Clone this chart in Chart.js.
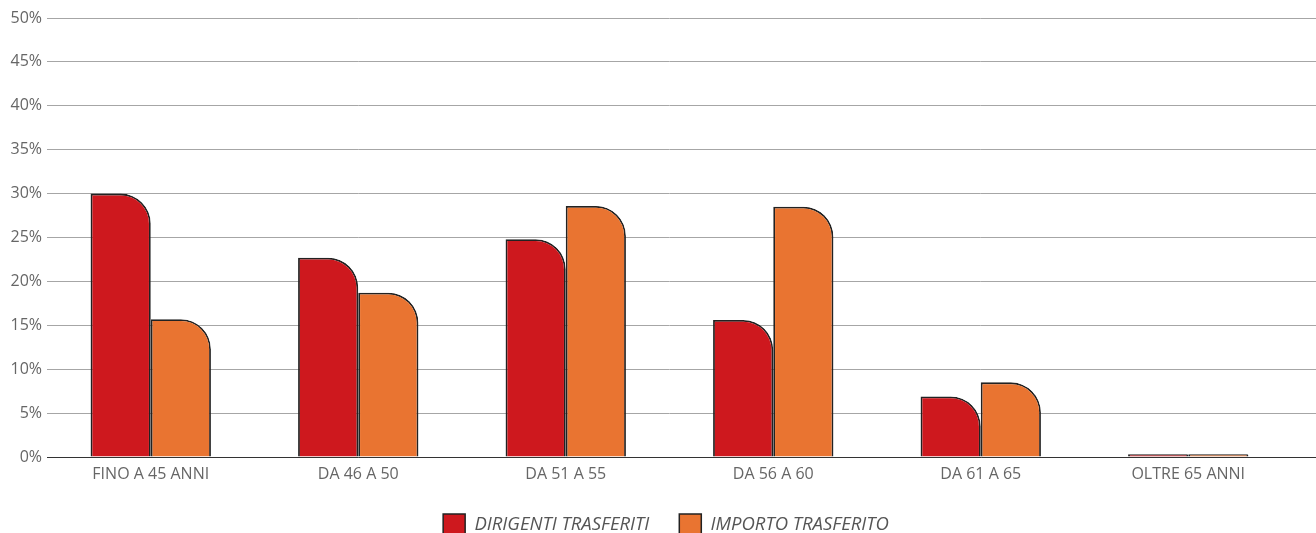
<!DOCTYPE html>
<html>
<head>
<meta charset="utf-8">
<script src="https://cdn.jsdelivr.net/npm/chart.js@4/dist/chart.umd.min.js"></script>
<style>
  html, body { margin: 0; padding: 0; background: #fff; overflow: hidden; }
  #wrap { width: 1316px; height: 545px; }
</style>
</head>
<body>
<div id="wrap"><canvas id="ageChart" width="1316" height="545"></canvas></div>
<script>
let categories = ["FINO A 45 ANNI", "DA 46 A 50", "DA 51 A 55", "DA 56 A 60", "DA 61 A 65", "OLTRE 65 ANNI"];
let dirigentiTrasferiti = [30, 22.7, 24.8, 15.6, 6.9, 0.3];
let importoTrasferito = [15.7, 18.7, 28.6, 28.5, 8.5, 0.3];

// gridlines in the reference run to the right edge of the picture
let extendGrid = {
    id: "extendGrid",
    afterLayout(chart) {
        // legend sits a little right of centre in the reference
        chart.legend.left += 20;
        chart.legend.right += 20;
    },
    beforeDatasetsDraw(chart) {
        let c = chart.ctx;
        let area = chart.chartArea;
        let y = chart.scales.y;
        c.save();
        y.ticks.forEach(function (t) {
            let py = Math.round(y.getPixelForValue(t.value) - 0.5) + 0.5;
            c.strokeStyle = t.value === 0 ? "#333" : "#a6a6a6";
            c.lineWidth = 1;
            c.beginPath();
            c.moveTo(area.right - 2, py);
            c.lineTo(chart.width, py);
            c.stroke();
        });
        c.restore();
    }
};

let ctx = document.getElementById("ageChart").getContext("2d");
let ageChart = new Chart(ctx, {
    type: "bar",
    data: {
        labels: categories,
        datasets: [{
            label: "DIRIGENTI TRASFERITI",
            data: dirigentiTrasferiti,
            backgroundColor: "#ce181e",
            borderColor: "#222",
            borderWidth: 1.8,
            borderSkipped: "bottom",
            borderRadius: { topRight: 30 },
            categoryPercentage: 0.58,
            barPercentage: 1.0
        }, {
            label: "IMPORTO TRASFERITO",
            data: importoTrasferito,
            backgroundColor: "#e97431",
            borderColor: "#222",
            borderWidth: 1.8,
            borderSkipped: "bottom",
            borderRadius: { topRight: 30 },
            categoryPercentage: 0.58,
            barPercentage: 1.0
        }]
    },
    options: {
        responsive: false,
        maintainAspectRatio: false,
        animation: false,
        layout: { padding: { top: 18, right: 24, left: 0, bottom: 0 } },
        plugins: {
            tooltip: { enabled: false },
            legend: {
                position: "bottom",
                labels: {
                    boxWidth: 22,
                    boxHeight: 21,
                    padding: 30,
                    color: "#555",
                    font: { family: "'Open Sans'", size: 18.5, style: "italic" },
                    generateLabels: function (chart) {
                        return chart.data.datasets.map(function (ds, i) {
                            return {
                                text: ds.label,
                                fillStyle: ds.backgroundColor,
                                strokeStyle: "#222",
                                lineWidth: 1.5,
                                fontColor: "#555",
                                datasetIndex: i
                            };
                        });
                    }
                }
            }
        },
        scales: {
            x: {
                afterFit: function (scale) { scale.height = 27; },
                grid: { display: false },
                border: { display: true, color: "#333", width: 1 },
                ticks: {
                    color: "#666",
                    padding: 0,
                    font: { family: "'Open Sans'", size: 16 }
                }
            },
            y: {
                min: 0,
                max: 50,
                afterFit: function (scale) { scale.width = 47; },
                border: { display: false },
                grid: { color: "#a6a6a6", drawTicks: false },
                ticks: {
                    stepSize: 5,
                    color: "#666",
                    padding: 5,
                    font: { family: "'Open Sans'", size: 16 },
                    callback: function (v) { return v + "%"; }
                }
            }
        }
    },
    plugins: [extendGrid]
});
</script>
</body>
</html>
